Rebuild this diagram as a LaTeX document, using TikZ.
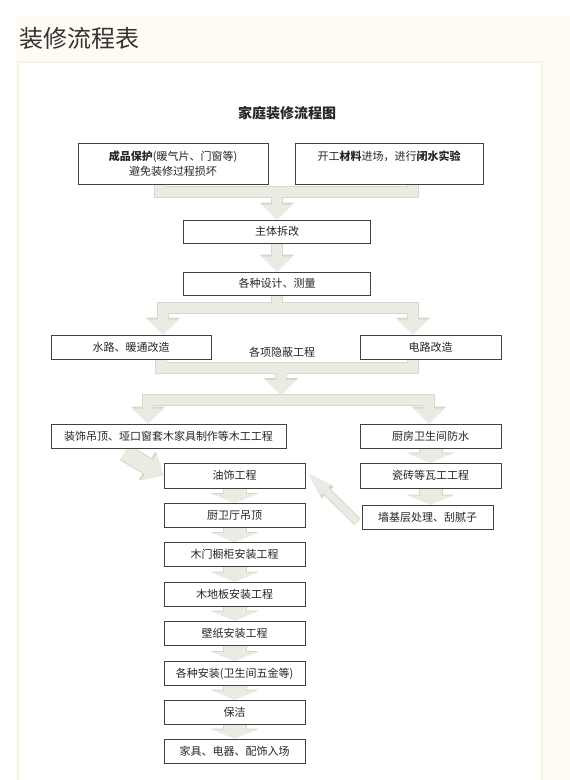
\documentclass[tikz,border=0pt]{standalone}
\usepackage{fontspec}
\setmainfont{Noto Sans CJK SC}
\usetikzlibrary{arrows.meta, calc, positioning}

\definecolor{cream}{HTML}{FFFBF2}
\definecolor{panelline}{HTML}{F8F2E6}
\definecolor{flowfill}{HTML}{EBEBE3}
\definecolor{flowedge}{HTML}{D6D6CC}
\definecolor{boxline}{HTML}{404040}
\definecolor{ink}{HTML}{262626}
\definecolor{headgray}{HTML}{333333}

\pgfdeclarelayer{backdrop}
\pgfdeclarelayer{flow}
\pgfsetlayers{backdrop,flow,main}

\tikzset{
  stage/.style={draw=boxline, line width=0.9pt, fill=white, minimum height=24pt,
    inner sep=2pt, text=ink, font=\fontsize{11}{15}\selectfont},
  tallstage/.style={stage, minimum height=41pt, align=center},
}

% grey block arrows, drawn twice: rim first, face on top
\newcommand{\arrownet}{%
  \draw[bigflow] (protect.south -| tl1) |- (tr1) -- (material.south -| tr1)
    (demolish.north |- tl1) -- (demolish.north);
  \draw[bigflow] (demolish.south) -- (design.north);
  \draw[bigflow] (design.south) -- (design.south |- sl) (sr) -- (sl) -- (water.north -| sl);
  \draw[bigflow] (sl) -- (sr) -- (elec.north -| sr);
  \draw[bigflow] (water.south -| ml) |- (mr) -- (elec.south -| mr) (ml -| hub) -- (hub);
  \draw[bigflow] (tr) -- (tl) -- (deco.north -| tl);
  \draw[bigflow] (tl) -- (tr) -- (proof.north -| tr);
  \draw[fatflow] ($(deco.south)+(-44,4)$) -- (oil.west);
  \draw[slimflow] ($(wall.west)+(-4,5)$) -- ($(oil.east)+(3,-2)$);
  \foreach \a/\b in {oil/ceiling, ceiling/door, door/floor, floor/paper, paper/fitting,
      fitting/clean, clean/furnish, proof/tile, tile/wall}
    \draw[smallflow] (\a.south) -- (\a.south |- \b.north);
}

\begin{document}
\begin{tikzpicture}[x=1pt, y=-1pt]
  \useasboundingbox (0,0) rectangle (570,780);
  \begin{pgfonlayer}{backdrop}
    \fill[cream] (15,15) rectangle (570,780);
    \filldraw[fill=white, draw=panelline, line width=1.2pt] (18,62) rectangle (542,781);
  \end{pgfonlayer}

  \node[anchor=west, text=headgray, font=\fontsize{24}{28}\selectfont] (heading) at (16,38) {装修流程表};
  \node[font=\fontsize{14}{16}\selectfont\bfseries, text=ink] (charttitle) at (287,113) {家庭装修流程图};

  \node[tallstage, minimum width=190pt] (protect) at (173,163.5) {{\bfseries 成品保护}(暖气片、门窗等)\\避免装修过程损坏};
  \node[tallstage, minimum width=188pt] (material) at (389,163.5) {开工{\bfseries 材料}进场，进行{\bfseries 闭水实验}\\~};
  \node[stage, minimum width=187pt, minimum height=23pt] (demolish) at (277,231.5) {主体拆改};
  \node[stage, minimum width=187pt, minimum height=23pt] (design) at (277,283.5) {各种设计、测量};
  \node[stage, minimum width=160pt] (water) at (131,347) {水路、暖通改造};
  \node[stage, minimum width=141pt] (elec) at (430.5,347) {电路改造};
  \node[text=ink, font=\fontsize{11}{14}\selectfont] (hidden) at (282,352) {各项隐蔽工程};
  \node[stage, minimum width=235pt] (deco) at (168.5,436) {装饰吊顶、垭口窗套木家具制作等木工工程};
  \node[stage, minimum width=141pt] (proof) at (430.5,436) {厨房卫生间防水};
  \node[stage, minimum width=141pt, minimum height=25pt] (oil) at (234.5,475.5) {油饰工程};
  \node[stage, minimum width=141pt, minimum height=25pt] (tile) at (430.5,475.5) {瓷砖等瓦工工程};
  \node[stage, minimum width=131pt] (wall) at (427.5,517) {墙基层处理、刮腻子};
  \foreach \y/\name/\txt in {515.5/ceiling/厨卫厅吊顶, 554.5/door/木门橱柜安装工程,
      594/floor/木地板安装工程, 633/paper/壁纸安装工程, 673.5/fitting/各种安装(卫生间五金等),
      712/clean/保洁, 751/furnish/家具、电器、配饰入场}
    \node[stage, minimum width=141pt] (\name) at (234.5,\y) {\txt};

  % junctions of the block arrows
  \coordinate (tl1) at (160,192);
  \coordinate (tr1) at (413,192);
  \coordinate (sl) at (163,308);
  \coordinate (sr) at (413,308);
  \coordinate (ml) at (161,368);
  \coordinate (mr) at (413,368);
  \coordinate (hub) at (281,395);
  \coordinate (tl) at (148,400);
  \coordinate (tr) at (429,400);

  \begin{pgfonlayer}{flow}
    \begin{scope}[color=flowedge,
        bigflow/.style={line width=12pt, -{Triangle[width=34pt, length=17pt, line width=0pt]}},
        fatflow/.style={line width=18pt, -{Triangle[width=34pt, length=19pt, line width=0pt]}},
        slimflow/.style={line width=9pt, -{Triangle[width=17pt, length=27pt, line width=0pt]}},
        smallflow/.style={line width=24pt, -{Triangle[width=48pt, length=10pt, line width=0pt]}}]
      \arrownet
    \end{scope}
    \begin{scope}[color=flowfill,
        bigflow/.style={line width=10pt, -{Triangle[width=31pt, length=15pt, line width=0pt]}},
        fatflow/.style={line width=16pt, -{Triangle[width=31pt, length=17pt, line width=0pt]}},
        slimflow/.style={line width=7pt, -{Triangle[width=14pt, length=24pt, line width=0pt]}},
        smallflow/.style={line width=22pt, -{Triangle[width=45pt, length=9pt, line width=0pt]}}]
      \arrownet
    \end{scope}
  \end{pgfonlayer}
\end{tikzpicture}
\end{document}
